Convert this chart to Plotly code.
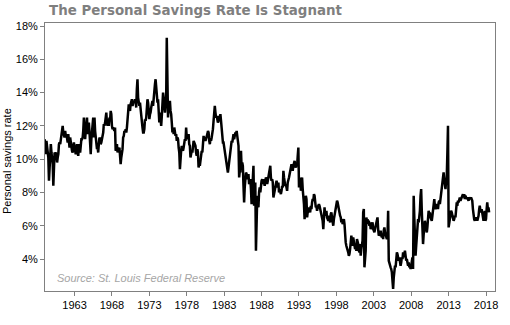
import pandas as pd
import plotly.graph_objects as go

# Monthly personal savings rate (%), January 1959 through June 2018
savings_by_year = {
    1959: [11.2, 10.6, 10.3, 11.1, 10.6, 10.5, 10.1, 8.7, 9.6, 10.8, 10.9, 10.4],
    1960: [10.1, 9.7, 8.4, 10.2, 10.4, 10.3, 10.4, 10.2, 9.8, 10.1, 10.3, 10.9],
    1961: [11.0, 10.9, 11.2, 11.4, 11.5, 12.0, 11.6, 11.5, 11.3, 11.7, 11.4, 11.5],
    1962: [11.3, 11.0, 11.5, 10.9, 10.7, 11.3, 10.9, 10.8, 10.5, 10.4, 10.7, 11.0],
    1963: [10.7, 10.5, 10.3, 10.6, 10.9, 10.4, 10.2, 10.7, 10.9, 10.4, 11.0, 11.2],
    1964: [11.2, 11.3, 11.7, 12.5, 11.5, 11.2, 11.7, 12.3, 12.5, 11.5, 11.9, 12.2],
    1965: [11.6, 11.0, 10.3, 11.2, 11.6, 12.4, 12.5, 11.3, 12.5, 11.7, 11.1, 11.2],
    1966: [10.6, 10.7, 10.4, 10.9, 11.3, 11.2, 10.9, 11.0, 11.2, 11.4, 11.6, 12.1],
    1967: [12.0, 12.2, 12.6, 12.8, 12.2, 12.0, 12.4, 12.0, 12.5, 12.3, 12.9, 12.7],
    1968: [12.0, 11.8, 11.9, 11.8, 11.7, 11.9, 10.5, 10.6, 10.9, 10.4, 10.7, 10.5],
    1969: [10.7, 10.3, 9.7, 10.1, 10.4, 10.6, 11.3, 11.4, 11.7, 11.6, 11.8, 11.6],
    1970: [11.9, 12.4, 12.9, 13.3, 13.0, 12.9, 13.3, 13.4, 13.6, 13.2, 13.4, 13.5],
    1971: [13.4, 13.6, 13.5, 13.1, 14.2, 14.8, 13.7, 13.5, 13.2, 13.4, 12.9, 12.6],
    1972: [12.2, 11.9, 11.6, 11.6, 11.8, 12.4, 12.3, 12.5, 12.9, 13.6, 13.4, 13.0],
    1973: [12.4, 12.7, 12.8, 13.1, 13.3, 13.5, 13.2, 13.8, 13.9, 14.5, 14.8, 14.3],
    1974: [13.9, 13.4, 13.6, 12.6, 12.2, 12.8, 12.4, 12.0, 12.6, 13.2, 14.0, 13.7],
    1975: [13.1, 12.8, 13.2, 13.5, 17.3, 14.2, 12.5, 13.2, 13.4, 13.5, 12.9, 12.7],
    1976: [12.2, 11.6, 11.8, 11.5, 11.9, 11.7, 11.4, 11.5, 11.1, 11.3, 11.2, 10.7],
    1977: [10.4, 9.4, 10.3, 10.5, 10.8, 10.6, 10.5, 10.7, 11.0, 11.2, 11.1, 11.9],
    1978: [11.3, 11.4, 11.2, 11.5, 10.9, 10.8, 10.1, 10.3, 10.5, 10.4, 10.7, 11.1],
    1979: [11.0, 10.9, 10.8, 10.4, 10.2, 10.6, 10.4, 9.5, 9.8, 9.6, 10.0, 10.2],
    1980: [10.5, 10.4, 11.1, 11.4, 11.2, 11.3, 11.1, 11.2, 11.4, 11.5, 11.7, 11.6],
    1981: [11.1, 10.9, 11.2, 11.1, 11.3, 11.5, 11.8, 12.3, 12.8, 13.2, 12.8, 12.5],
    1982: [12.6, 12.4, 12.2, 12.3, 12.6, 12.5, 12.7, 12.3, 11.8, 11.3, 11.0, 11.0],
    1983: [10.7, 10.6, 10.3, 10.0, 9.8, 9.4, 9.2, 9.5, 9.9, 10.3, 10.6, 11.0],
    1984: [11.1, 11.0, 11.3, 11.5, 11.2, 11.4, 11.6, 11.5, 11.7, 11.4, 11.1, 10.8],
    1985: [8.9, 9.3, 9.2, 10.5, 9.5, 9.8, 9.6, 8.4, 7.4, 8.3, 8.9, 9.2],
    1986: [9.1, 8.8, 8.9, 9.1, 8.5, 8.7, 8.8, 8.2, 7.3, 8.1, 9.4, 9.6],
    1987: [7.2, 8.4, 8.6, 4.5, 7.0, 7.6, 7.8, 7.1, 8.0, 8.3, 8.0, 8.6],
    1988: [8.7, 8.8, 8.5, 8.8, 8.6, 8.4, 8.7, 8.9, 8.8, 8.5, 8.7, 8.9],
    1989: [9.1, 9.3, 9.6, 8.9, 8.7, 8.8, 8.6, 7.7, 8.0, 8.2, 8.3, 8.5],
    1990: [8.7, 8.5, 8.3, 8.6, 8.0, 8.2, 7.9, 7.9, 8.1, 8.4, 8.3, 9.3],
    1991: [8.9, 8.7, 8.4, 8.5, 8.3, 8.1, 8.6, 8.7, 8.9, 9.1, 9.3, 9.5],
    1992: [9.7, 9.5, 9.3, 9.6, 9.7, 9.9, 9.6, 9.5, 9.7, 9.6, 10.2, 10.7],
    1993: [8.3, 8.7, 8.9, 8.1, 8.4, 8.9, 8.2, 7.9, 7.3, 6.4, 7.3, 7.8],
    1994: [7.6, 6.5, 6.8, 7.1, 6.9, 7.0, 6.8, 7.2, 7.0, 7.4, 7.6, 7.5],
    1995: [7.9, 7.8, 7.5, 7.1, 7.2, 6.9, 7.1, 7.2, 7.3, 7.2, 7.0, 6.8],
    1996: [6.7, 6.5, 6.3, 5.8, 6.4, 7.1, 6.6, 6.7, 6.9, 6.5, 6.4, 6.3],
    1997: [6.6, 6.4, 6.2, 6.7, 6.8, 6.5, 6.3, 6.0, 6.4, 6.6, 6.9, 7.0],
    1998: [7.2, 7.5, 7.4, 7.1, 6.9, 6.8, 6.6, 6.5, 6.2, 6.4, 6.1, 6.2],
    1999: [6.4, 6.1, 5.4, 5.0, 4.8, 4.7, 4.5, 4.4, 4.2, 4.3, 4.6, 4.9],
    2000: [5.4, 5.0, 4.8, 5.3, 5.1, 4.9, 4.6, 4.7, 4.5, 5.2, 5.1, 4.9],
    2001: [4.5, 4.4, 4.9, 4.2, 4.6, 4.8, 5.1, 6.8, 7.0, 3.5, 3.9, 4.5],
    2002: [6.5, 6.3, 6.4, 6.1, 6.3, 6.0, 6.2, 5.8, 5.9, 6.1, 6.2, 5.8],
    2003: [5.7, 5.6, 5.8, 6.0, 6.2, 6.4, 6.5, 5.8, 5.4, 5.5, 5.6, 5.7],
    2004: [5.4, 5.3, 5.5, 5.2, 5.7, 5.9, 5.6, 5.5, 5.3, 5.2, 5.4, 6.9],
    2005: [3.9, 3.7, 3.6, 3.5, 3.4, 3.2, 2.7, 2.2, 2.9, 3.2, 3.6, 3.5],
    2006: [4.2, 4.4, 4.3, 4.0, 3.9, 4.1, 3.8, 3.6, 3.8, 4.1, 4.0, 4.4],
    2007: [4.1, 4.3, 4.5, 4.2, 3.9, 4.0, 3.8, 3.6, 3.8, 3.5, 3.7, 3.4],
    2008: [3.6, 3.8, 4.1, 3.4, 7.8, 6.5, 4.6, 4.2, 4.8, 5.4, 6.0, 6.4],
    2009: [6.2, 6.5, 6.9, 7.8, 8.2, 6.9, 5.8, 4.9, 5.5, 6.0, 6.3, 6.0],
    2010: [5.8, 5.6, 5.9, 6.4, 6.9, 6.7, 6.8, 6.5, 6.4, 6.3, 6.6, 6.9],
    2011: [7.4, 7.6, 7.2, 7.0, 7.1, 7.3, 7.2, 7.0, 7.4, 7.5, 7.3, 7.6],
    2012: [8.1, 8.3, 8.5, 8.9, 9.2, 8.8, 8.5, 8.2, 8.7, 8.9, 10.4, 12.0],
    2013: [5.9, 6.2, 6.4, 6.7, 6.9, 6.8, 6.6, 6.5, 6.3, 6.4, 6.6, 6.5],
    2014: [7.2, 7.4, 7.2, 7.5, 7.4, 7.6, 7.7, 7.5, 7.6, 7.7, 7.8, 7.9],
    2015: [7.7, 7.9, 7.6, 7.8, 7.7, 7.6, 7.7, 7.6, 7.5, 7.7, 7.6, 7.6],
    2016: [7.7, 7.6, 7.5, 7.0, 6.6, 6.4, 6.3, 6.5, 6.4, 6.5, 6.3, 6.4],
    2017: [6.6, 7.0, 7.2, 6.9, 6.8, 7.0, 6.7, 6.5, 6.3, 6.5, 6.9, 6.3],
    2018: [6.4, 7.0, 7.4, 7.0, 7.1, 6.8],
}

tick_years = [1963, 1968, 1973, 1978, 1983, 1988, 1993, 1998, 2003, 2008, 2013, 2018]
y_ticks = [4, 6, 8, 10, 12, 14, 16, 18]

dates = []
rates = []
for year, months in savings_by_year.items():
    for m, v in enumerate(months, start=1):
        dates.append(pd.Timestamp(year=year, month=m, day=1))
        rates.append(v)

AXIS_GRAY = "#808080"
PLOT_W = 510 - 45 - 15
PLOT_H = 325 - 23 - 34

fig = go.Figure(
    go.Scatter(
        x=dates,
        y=rates,
        mode="lines",
        line=dict(color="#000000", width=2.5),
        hoverinfo="skip",
    )
)

fig.update_layout(
    width=510,
    height=325,
    margin=dict(l=45, r=15, t=23, b=34, autoexpand=False),
    paper_bgcolor="white",
    plot_bgcolor="white",
    showlegend=False,
    font=dict(family="Liberation Sans, Arial, sans-serif", size=11, color="#000000"),
    title=dict(
        text="<b>The Personal Savings Rate Is Stagnant</b>",
        font=dict(family="DejaVu Sans, Verdana, sans-serif", size=13.4, color="#7f7f7f"),
        xref="container",
        yref="container",
        x=49 / 510,
        y=1 - 10 / 325,
        xanchor="left",
        yanchor="middle",
    ),
    annotations=[
        dict(
            text="<i>Source: St. Louis Federal Reserve</i>",
            xref="paper",
            yref="paper",
            x=10 / PLOT_W,
            y=(291 - 278) / PLOT_H,
            xanchor="left",
            yanchor="middle",
            showarrow=False,
            font=dict(family="Liberation Sans, Arial, sans-serif", size=11, color="#a6a6a6"),
        ),
        dict(
            text="Personal savings rate",
            xref="paper",
            yref="paper",
            x=(7 - 45) / PLOT_W,
            y=(291 - 161) / PLOT_H,
            xanchor="center",
            yanchor="middle",
            textangle=-90,
            showarrow=False,
            font=dict(family="Liberation Sans, Arial, sans-serif", size=11, color="#000000"),
        ),
    ],
)

fig.update_xaxes(
    type="date",
    range=["1959-01-20", "2019-03-15"],
    tickmode="array",
    tickvals=[pd.Timestamp(year=y, month=1, day=1) for y in tick_years],
    ticktext=[str(y) for y in tick_years],
    ticks="outside",
    ticklen=4,
    tickcolor=AXIS_GRAY,
    showline=True,
    linecolor=AXIS_GRAY,
    linewidth=1,
    mirror=True,
    showgrid=False,
    zeroline=False,
    automargin=False,
    tickfont=dict(size=11),
)

fig.update_yaxes(
    range=[2.08, 18.18],
    tickmode="array",
    tickvals=y_ticks,
    ticktext=[f"{v}%" for v in y_ticks],
    ticks="outside",
    ticklen=4,
    tickcolor=AXIS_GRAY,
    showline=True,
    linecolor=AXIS_GRAY,
    linewidth=1,
    mirror=True,
    showgrid=False,
    zeroline=False,
    automargin=False,
    tickfont=dict(size=11),
)

fig.write_html("out.html")
